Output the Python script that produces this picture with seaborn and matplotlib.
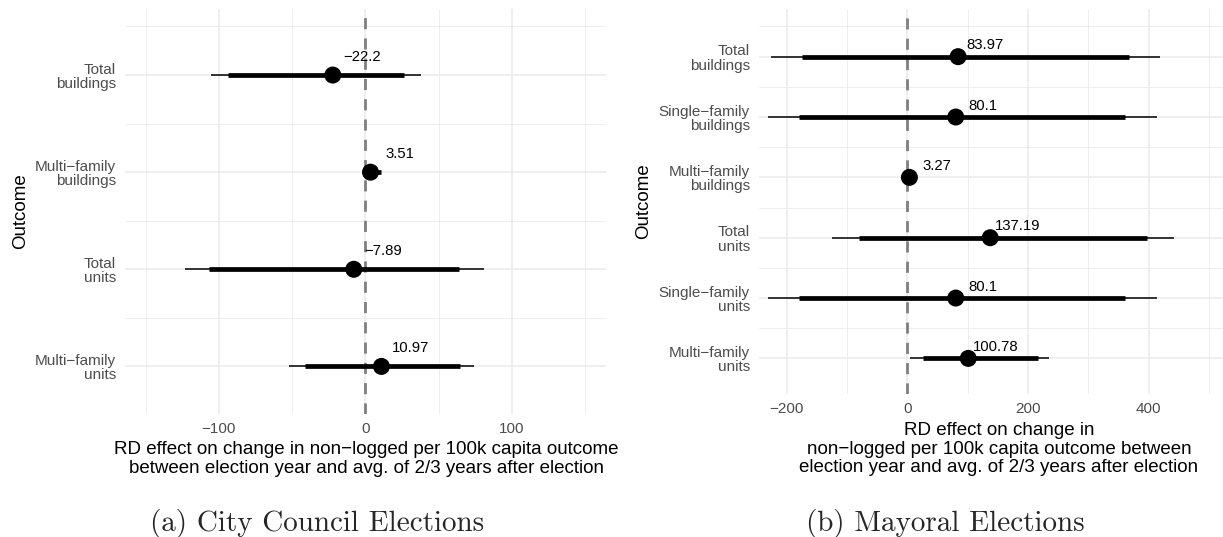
import numpy as np
import pandas as pd
import matplotlib
matplotlib.use("Agg")
import matplotlib.pyplot as plt
import seaborn as sns

# City council panel
council_outcomes = ["Total\nbuildings", "Multi\u2212family\nbuildings",
                    "Total\nunits", "Multi\u2212family\nunits"]
council_est = [-22.2, 3.51, -7.89, 10.97]
council_lo95 = [-105, -1, -123, -52]
council_hi95 = [38, 10, 81, 74]
council_lo90 = [-94, 0, -107, -41.5]
council_hi90 = [26.5, 10.5, 64, 64.5]

# Mayoral panel
mayor_outcomes = ["Total\nbuildings", "Single\u2212family\nbuildings",
                  "Multi\u2212family\nbuildings", "Total\nunits",
                  "Single\u2212family\nunits", "Multi\u2212family\nunits"]
mayor_est = [83.97, 80.1, 3.27, 137.19, 80.1, 100.78]
mayor_lo95 = [-226, -231, -6, -125, -231, 5]
mayor_hi95 = [419, 413, 12, 442, 413, 235]
mayor_lo90 = [-174, -179, -4, -79.5, -179, 25]
mayor_hi90 = [367, 361, 10, 397, 361, 217]

council_xticks = [-100, 0, 100]
council_xminor = [-150, -50, 50, 150]
mayor_xticks = [-200, 0, 200, 400]
mayor_xminor = [-100, 100, 300, 500]

xlab_council = ("RD effect on change in non\u2212logged per 100k capita outcome\n"
                "between election year and avg. of 2/3 years after election")
xlab_mayor = ("RD effect on change in\n"
              "non\u2212logged per 100k capita outcome between\n"
              "election year and avg. of 2/3 years after election")

sns.set_theme(style="whitegrid")
plt.rcParams['font.family'] = ['Liberation Sans', 'DejaVu Sans']
plt.rcParams['axes.unicode_minus'] = True

W, H = 1223, 537
fig = plt.figure(figsize=(W / 100, H / 100), dpi=100)


def px_axes(x0, y0, x1, y1):
    return fig.add_axes([x0 / W, 1 - y1 / H, (x1 - x0) / W, (y1 - y0) / H])


def fmt(v):
    s = f"{v:g}"
    return s.replace("-", "\u2212")


def draw_panel(ax, outcomes, est, lo95, hi95, lo90, hi90, xlim, ylim,
               xticks, xminor, nudge_x, xlabel, xlab_x, xlab_y, ylab_x):
    df = pd.DataFrame({"outcome": outcomes, "est": est,
                       "lo95": lo95, "hi95": hi95, "lo90": lo90, "hi90": hi90})
    df["pos"] = np.arange(len(df))

    ax.axvline(0, color="#7F7F7F", lw=2.0, dashes=(4, 3.3), zorder=1)
    ax.hlines(df["pos"], df["lo95"], df["hi95"], color="black", lw=1.1,
              capstyle="butt", zorder=2)
    ax.hlines(df["pos"], df["lo90"], df["hi90"], color="black", lw=3.4,
              capstyle="butt", zorder=3)
    sns.scatterplot(data=df, x="est", y="pos", ax=ax, color="black", s=150,
                    edgecolor="none", zorder=4, legend=False)
    for _, r in df.iterrows():
        ax.text(r["est"] + nudge_x, r["pos"] - 0.19, fmt(r["est"]),
                ha="center", va="center", fontsize=10.7, color="black", zorder=5)

    ax.set_xlim(*xlim)
    ax.set_ylim(*ylim)
    ax.set_xticks(xticks)
    ax.set_xticklabels([fmt(t) for t in xticks])
    ax.set_xticks(xminor, minor=True)
    ax.set_yticks(df["pos"])
    ax.set_yticklabels(outcomes, linespacing=1.05)
    ax.set_yticks(list(df["pos"] - 0.5), minor=True)

    ax.set_facecolor("white")
    for sp in ax.spines.values():
        sp.set_visible(False)
    ax.grid(True, which="major", color="#EBEBEB", lw=1.1)
    ax.grid(True, which="minor", color="#EBEBEB", lw=0.6)
    ax.set_axisbelow(True)
    ax.tick_params(axis="both", which="both", length=0, labelsize=11,
                   colors="#4D4D4D", pad=6.5)
    ax.tick_params(axis="x", pad=6.0)

    ax.set_xlabel(xlabel, fontsize=13.5, color="black", va="center",
                  linespacing=1.1)
    ax.xaxis.set_label_coords(xlab_x, xlab_y)
    ax.set_ylabel("Outcome", fontsize=13.5, color="black", va="center")
    ax.yaxis.set_label_coords(ylab_x, 0.5)


ax1 = px_axes(125, 9, 605.7, 414)
draw_panel(ax1, council_outcomes, council_est, council_lo95, council_hi95,
           council_lo90, council_hi90, (-164, 164), (3.49, -0.68),
           council_xticks, council_xminor, 20, xlab_council,
           0.502, -0.111, -0.217)

ax2 = px_axes(759, 9, 1223, 394)
draw_panel(ax2, mayor_outcomes, mayor_est, mayor_lo95, mayor_hi95,
           mayor_lo90, mayor_hi90, (-246, 523), (5.59, -0.79),
           mayor_xticks, mayor_xminor, 45, xlab_mayor,
           0.517, -0.143, -0.248)

# subfigure captions
fig.text(317 / W, 1 - 523 / H, "(a) City Council Elections", fontfamily="cmr10",
         fontsize=21, ha="center", va="center")
fig.text(945 / W, 1 - 523 / H, "(b) Mayoral Elections", fontfamily="cmr10",
         fontsize=21, ha="center", va="center")

fig.savefig("out.png", dpi=100, facecolor="white")
